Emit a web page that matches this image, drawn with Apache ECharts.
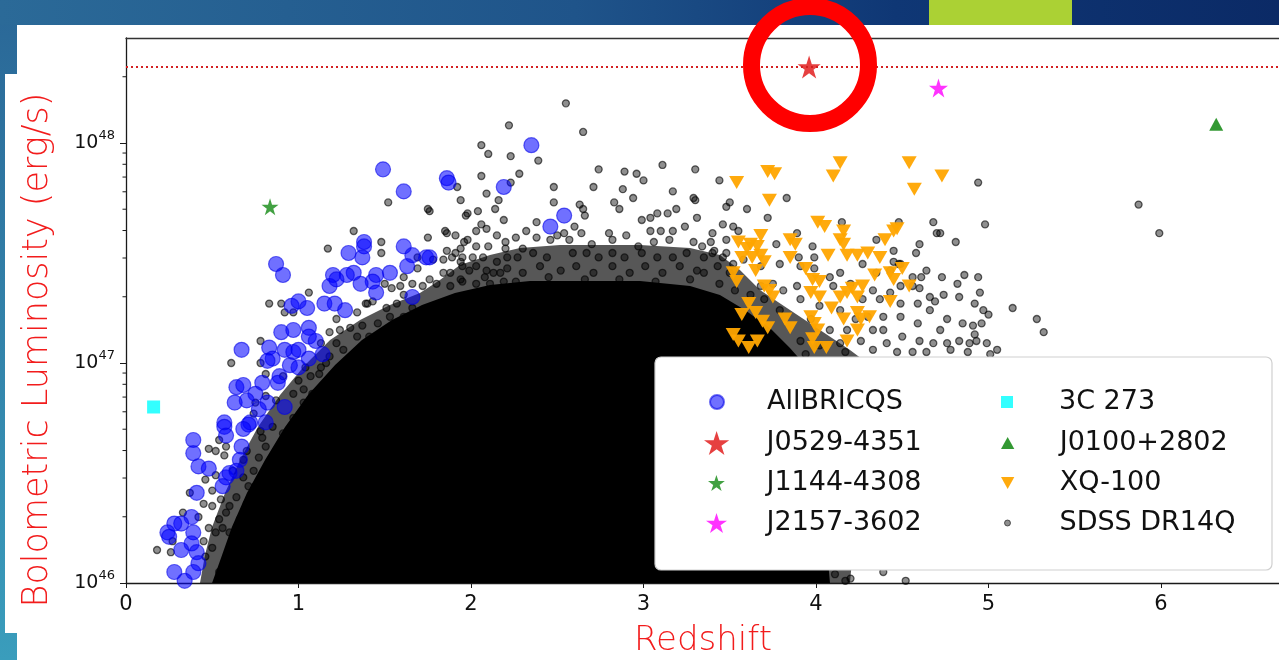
<!DOCTYPE html>
<html>
<head>
<meta charset="utf-8">
<script src="https://cdn.jsdelivr.net/npm/echarts@6/dist/echarts.min.js"></script>
<style>
  html, body { margin: 0; padding: 0; background: #ffffff; }
  #chart { width: 1279px; height: 660px; }
</style>
</head>
<body>
<div id="chart"></div>
<script>
// Quasar bolometric luminosity against redshift.
// Points are stored as [redshift, log10(L_bol / erg s^-1)].

const xTicks = [0, 1, 2, 3, 4, 5, 6];
const yMajorTicks = [1e46, 1e47, 1e48];
const yMinorTicks = [2e46, 3e46, 4e46, 5e46, 6e46, 7e46, 8e46, 9e46,
                     2e47, 3e47, 4e47, 5e47, 6e47, 7e47, 8e47, 9e47, 2e48];

const j0529 = [[3.96, 48.345]];
const j1144 = [[0.835, 47.71]];
const j2157 = [[4.71, 48.25]];
const c273 = [[0.16, 46.80]];
const j0100 = [[6.32, 48.085]];

const allbricqs = [
  [2.35,47.99],[1.49,47.88],[1.61,47.78],[1.86,47.84],[1.87,47.82],[2.19,47.80],[2.46,47.62],[2.54,47.67],
  [0.87,47.45],[0.91,47.40],[1.38,47.55],[1.38,47.53],[1.37,47.48],[1.29,47.50],[1.61,47.53],[1.66,47.49],
  [1.63,47.44],[1.74,47.48],[1.76,47.48],[1.53,47.41],[1.45,47.40],[1.43,47.37],[1.45,47.32],[1.36,47.36],
  [1.32,47.41],[1.28,47.40],[1.20,47.40],[1.18,47.35],[1.22,47.38],[1.66,47.30],
  [0.96,47.26],[1.00,47.28],[1.05,47.25],[1.15,47.27],[1.21,47.27],[1.27,47.24],[0.90,47.14],[0.97,47.15],
  [1.06,47.16],[1.06,47.12],[1.10,47.10],[1.14,47.04],[0.67,47.06],[0.83,47.07],[0.85,47.02],[0.92,47.06],
  [0.97,47.05],[1.00,47.06],[0.95,46.99],[1.00,46.98],[1.06,47.02],[0.89,46.94],[0.88,46.91],[0.82,47.01],
  [0.64,46.89],[0.68,46.90],[0.75,46.86],[0.79,46.91],[0.63,46.82],[0.70,46.83],[0.82,46.82],[0.92,46.80],
  [0.57,46.73],[0.72,46.73],[0.77,46.79],[0.81,46.73],[0.71,46.72],[0.68,46.70],[0.57,46.71],[0.58,46.67],
  [0.39,46.65],[0.39,46.59],[0.67,46.62],[0.66,46.56],[0.42,46.53],[0.48,46.52],[0.58,46.48],[0.60,46.50],
  [0.64,46.51],[0.56,46.44],[0.41,46.41],[0.38,46.30],[0.32,46.27],[0.28,46.27],[0.24,46.23],[0.25,46.21],
  [0.39,46.23],[0.38,46.18],[0.32,46.15],[0.41,46.14],[0.42,46.09],[0.28,46.05],[0.34,46.01],[0.39,46.05]
];

const xq100 = [
  [3.54,47.82],[3.72,47.87],[3.76,47.86],[3.73,47.74],[4.14,47.91],[4.10,47.85],[4.54,47.91],[4.57,47.79],
  [4.73,47.85],[4.01,47.64],[4.05,47.62],[4.16,47.60],[4.47,47.61],[4.45,47.60],[4.40,47.56],[3.68,47.58],
  [3.55,47.55],[3.62,47.54],[3.66,47.53],[3.60,47.52],[3.63,47.48],[3.68,47.49],[3.57,47.48],[3.70,47.46],
  [3.85,47.56],[3.88,47.54],[3.85,47.48],[4.14,47.56],[4.16,47.54],[4.07,47.49],[4.18,47.49],[4.24,47.49],
  [4.30,47.50],[4.37,47.48],[3.94,47.43],[3.52,47.41],[3.54,47.37],[3.65,47.42],[3.98,47.38],[4.02,47.37],
  [4.34,47.40],[4.43,47.41],[4.45,47.38],[4.50,47.43],[4.54,47.35],[3.70,47.35],[3.73,47.33],[3.75,47.30],
  [3.97,47.32],[4.02,47.30],[4.14,47.30],[4.18,47.32],[4.21,47.34],[4.27,47.35],[4.24,47.30],[4.43,47.28],
  [3.61,47.27],[3.65,47.23],[3.57,47.22],[3.69,47.19],[3.72,47.16],[3.82,47.20],[3.85,47.16],[3.97,47.21],
  [3.99,47.18],[4.09,47.25],[4.16,47.20],[4.24,47.23],[4.31,47.21],[4.26,47.20],[3.52,47.13],[3.55,47.10],
  [3.61,47.07],[3.66,47.10],[4.01,47.15],[3.98,47.11],[3.99,47.07],[4.06,47.07],[4.18,47.10],[4.24,47.15]
];

// Individually visible SDSS DR14Q quasars around the crowded region
const sdssPoints = [
  [2.55,48.18],[2.22,48.08],[2.65,48.05],[2.06,47.99],[2.10,47.95],[2.23,47.94],[2.39,47.92],[2.74,47.88],
  [2.89,47.87],[2.96,47.86],[3.00,47.83],[3.11,47.90],[3.30,47.88],[3.44,47.83],[2.06,47.85],[2.28,47.86],
  [1.92,47.80],[2.48,47.80],[2.71,47.80],[2.88,47.79],[3.17,47.78],[2.09,47.77],[1.94,47.74],[2.14,47.70],
  [2.04,47.69],[1.97,47.67],[2.19,47.65],[2.48,47.73],[2.63,47.72],[2.65,47.70],[2.83,47.73],[2.86,47.70],
  [2.94,47.75],[3.19,47.70],[3.29,47.75],[3.30,47.74],[3.48,47.71],[3.50,47.73],[2.66,47.67],[2.99,47.65],
  [3.04,47.66],[3.08,47.68],[3.14,47.68],[3.31,47.66],[2.38,47.64],[2.32,47.60],[2.06,47.63],[2.09,47.61],
  [1.86,47.59],[1.91,47.58],[2.54,47.59],[2.50,47.58],[2.26,47.57],[2.38,47.57],[2.60,47.62],[2.64,47.59],
  [2.80,47.59],[2.90,47.58],[3.04,47.60],[3.10,47.60],[3.17,47.60],[3.24,47.62],[3.29,47.55],[3.40,47.59],
  [3.46,47.63],[3.52,47.62],
  [1.96,47.55],[2.03,47.53],[2.10,47.53],[2.20,47.55],[2.30,47.52],[2.46,47.56],[2.57,47.56],[2.70,47.54],
  [2.82,47.56],[2.97,47.53],[3.06,47.55],[3.15,47.56],[1.86,47.51],[1.91,47.50],[1.84,47.47],[1.94,47.46],
  [2.03,47.44],[2.15,47.46],[2.27,47.48],[2.36,47.50],[2.44,47.48],[2.59,47.50],[2.67,47.50],[2.74,47.48],
  [2.82,47.50],[2.89,47.48],[2.99,47.50],[3.08,47.48],[3.17,47.48],[3.25,47.50],[3.34,47.53],[3.40,47.50],
  [3.48,47.50],
  [1.88,47.41],[1.99,47.42],[2.13,47.41],[2.21,47.43],[2.30,47.41],[2.40,47.44],[2.52,47.42],[2.61,47.44],
  [2.71,47.41],[2.82,47.44],[2.92,47.41],[3.01,47.44],[3.11,47.41],[3.21,47.44],[3.31,47.42],[3.43,47.44],
  [3.50,47.41],
  [1.94,47.38],[2.08,47.39],[2.26,47.37],[2.45,47.39],[2.66,47.38],[2.86,47.38],[3.07,47.37],[3.27,47.38],
  [3.44,47.36],
  [1.52,47.73],[1.75,47.70],[1.76,47.69],[1.98,47.68],[1.32,47.60],[1.85,47.60],[2.03,47.60],[1.48,47.55],
  [1.48,47.50],[1.17,47.52],[1.75,47.57],[1.98,47.56],[2.15,47.58],[1.89,47.48],[1.78,47.47],[1.95,47.48],
  [2.01,47.48],[2.07,47.48],[2.21,47.48],[1.69,47.43],[1.84,47.41],[1.95,47.44],[2.09,47.42],[2.17,47.41],
  [1.61,47.39],[1.76,47.38],[1.50,47.36],[1.59,47.35],[1.66,47.36],[1.72,47.35],[1.80,47.36],[1.88,47.35],
  [1.95,47.37],[2.03,47.36],[2.11,47.36],[2.19,47.37],[1.06,47.32],[0.83,47.27],[0.90,47.27],[0.97,47.23],
  [1.39,47.27],[1.43,47.28],[1.34,47.23],[1.51,47.25],[1.57,47.27],[1.66,47.25],[1.53,47.21],[1.61,47.21],
  [1.22,47.20],[1.18,47.14],[1.24,47.15],[1.30,47.16],[1.37,47.17],[1.46,47.18],[1.34,47.12],[1.41,47.12],
  [1.13,47.09],[1.22,47.09],[0.78,47.10],[1.18,47.03],[1.13,46.98],[1.26,47.06],[1.30,47.00],[1.07,46.94],
  [1.17,46.91],[1.03,46.88],[0.61,47.00],[0.92,47.23],[1.40,47.27],[1.61,47.31],[1.54,47.34],[1.69,47.48],
  [1.94,47.52],[2.20,47.52],[2.16,47.74],[2.23,47.82],
  [0.78,47.00],[0.54,46.65],[0.58,46.62],[0.48,46.61],[0.52,46.60],[0.57,46.58],[0.46,46.47],[0.52,46.49],
  [0.37,46.41],[0.50,46.42],[0.45,46.36],[0.50,46.35],[0.55,46.38],[0.33,46.32],[0.42,46.30],[0.48,46.25],
  [0.54,46.29],[0.58,46.32],[0.27,46.19],[0.18,46.15],[0.26,46.14],[0.45,46.19],[0.50,46.16],[0.46,46.12],
  [0.74,46.77],[0.78,46.69],[0.79,46.66],[0.70,46.60],[0.62,46.51],[0.68,46.56],[0.71,46.44],[0.64,46.39],
  [0.60,46.35],[0.56,46.25],[0.60,46.23],[0.52,46.23],[0.87,46.83],[0.81,46.85],[0.75,46.82],[0.91,46.94],
  [0.81,46.95],[1.00,46.92],[0.97,46.86],[1.03,46.82],[0.85,46.71],[0.81,46.62],[0.77,46.57],[0.74,46.51],
  [0.68,46.48],[1.04,46.98],[1.12,46.95],[1.16,47.00],[1.08,46.86],[0.97,46.75],[0.91,46.68],[0.87,46.60],
  [0.81,46.51],[0.75,46.44],[0.70,46.36],[0.66,46.29],[0.62,46.15],[0.58,46.09],[0.54,46.05],
  [3.83,47.75],[3.60,47.70],[3.72,47.66],[4.94,47.82],[4.98,47.63],[4.68,47.64],[4.70,47.59],[4.72,47.59],
  [4.81,47.55],[4.15,47.64],[4.48,47.64],[3.55,47.60],[3.89,47.59],[3.77,47.54],[3.98,47.53],[4.35,47.56],
  [4.60,47.54],[4.58,47.50],[4.45,47.51],[4.45,47.46],[4.48,47.45],[3.48,47.56],[3.39,47.55],[3.41,47.51],
  [3.46,47.48],[3.35,47.48],[3.58,47.47],[3.79,47.45],[3.90,47.48],[3.99,47.48],[3.91,47.44],[3.99,47.43],
  [4.14,47.41],[4.27,47.45],[4.35,47.41],[4.43,47.42],[4.49,47.45],[4.64,47.42],[4.56,47.39],[4.61,47.39],
  [4.73,47.39],[4.86,47.40],[4.94,47.39],[4.82,47.36],[4.60,47.34],[4.66,47.30],[4.69,47.28],[4.74,47.31],
  [4.83,47.30],[4.92,47.27],[4.97,47.24],[5.00,47.22],[3.35,47.41],[3.52,47.45],[3.68,47.44],[3.75,47.36],
  [3.81,47.33],[3.89,47.35],[4.08,47.39],[4.10,47.35],[4.20,47.36],[4.33,47.33],[4.43,47.32],[4.49,47.35],
  [4.56,47.35],[4.27,47.29],[4.37,47.29],[4.49,47.27],[4.59,47.27],[4.66,47.24],[4.76,47.20],[4.72,47.15],
  [4.85,47.18],[4.91,47.17],[4.96,47.18],[4.68,47.09],[4.76,47.09],[4.83,47.10],[4.89,47.09],[4.93,47.10],
  [4.99,47.09],[5.05,47.06],[4.39,47.21],[4.49,47.21],[4.59,47.18],[4.39,47.15],[4.50,47.12],[4.60,47.10],
  [4.41,47.09],[4.47,47.05],[4.56,47.05],[4.64,47.05],[4.78,47.06],[4.88,47.05],[4.30,47.21],[4.33,47.15],
  [4.26,47.10],[4.33,47.06],[4.18,47.15],[4.14,47.09],
  [3.62,47.31],[3.70,47.29],[3.91,47.29],[4.02,47.26],[4.14,47.24],[3.97,47.20],[4.08,47.15],[3.91,47.10],
  [4.02,47.08],[4.17,47.05],[3.94,47.04],[4.23,47.20],[3.79,47.24],[3.53,47.33],[3.68,47.35],
  [5.87,47.72],[5.99,47.59],[4.95,47.32],[5.14,47.25],[5.28,47.20],[5.32,47.14],[4.92,47.13],[5.01,47.04],
  [4.20,46.02],[4.39,46.05],[4.52,46.01],[4.11,46.04],[4.17,46.01]
];

// Outline of the region where SDSS DR14Q points overlap into solid black
const sdssCore = [
  [0.499,46.000],[0.557,46.127],[0.614,46.255],[0.701,46.409],[0.806,46.559],[0.922,46.709],
  [1.055,46.855],[1.212,46.991],[1.368,47.105],[1.542,47.195],[1.716,47.264],[1.907,47.318],
  [2.110,47.355],[2.342,47.373],[2.980,47.373],[3.270,47.350],[3.443,47.309],[3.588,47.241],
  [3.733,47.159],[3.849,47.068],[3.936,46.991],[4.023,46.514],[4.081,46.000]
];

// Outline of the crowded but not fully saturated band around it
const sdssCrowd = [
  [0.429,46.000],[0.458,46.127],[0.499,46.255],[0.574,46.409],[0.661,46.559],[0.765,46.709],
  [0.893,46.855],[1.038,46.991],[1.183,47.105],[1.357,47.195],[1.530,47.264],[1.704,47.318],
  [1.820,47.377],[1.936,47.445],[2.110,47.491],[2.284,47.523],[2.516,47.536],[2.980,47.536],
  [3.270,47.523],[3.443,47.491],[3.559,47.423],[3.675,47.332],[3.849,47.241],[4.023,47.150],
  [4.197,47.059],[4.313,46.991],[4.255,46.514],[4.197,46.000]
];

const toXY = pts => pts.map(p => [p[0], Math.pow(10, p[1])]);

const STAR = 'path://M0,-10L2.245,-3.09L9.511,-3.09L3.633,1.18L5.878,8.09L0,3.82L-5.878,8.09L-3.633,1.18L-9.511,-3.09L-2.245,-3.09Z';
const SQUARE = 'path://M0,0L10,0L10,10L0,10Z';
const TRI_UP = 'path://M5,0L10,9L0,9Z';
const TRI_DOWN = 'path://M0,0L10,0L5,9Z';

const TITLE_RED = '#f21c1c';
const TICK_FONT = 'DejaVu Sans';
const AXIS_COLOR = '#1a1a1a';

const chart = echarts.init(document.getElementById('chart'), null, { renderer: 'canvas' });

// legend: two columns of four rows inside one frame
const legendRows = [402, 443, 483, 523];
const legendCols = [{ center: 716, text: 766 }, { center: 1007, text: 1059 }];
function legendEntry(name, icon, size, col, row, itemStyle) {
  const c = legendCols[col];
  const item = { name: name, icon: icon };
  if (itemStyle) item.itemStyle = itemStyle;
  return {
    data: [item],
    left: c.center - size / 2,
    top: legendRows[row] - 16,
    itemWidth: 2 * (c.text - 5 - c.center),
    itemHeight: size,
    symbolKeepAspect: true,
    padding: 0,
    z: 10,
    textStyle: { fontFamily: TICK_FONT, fontSize: 27, color: '#111', lineHeight: 32 }
  };
}

function polygonSeries(name, outline, fill, z) {
  return {
    name: name, type: 'custom', z: z, silent: true,
    data: [[0, 1e46]],
    renderItem: (params, api) => ({
      type: 'polygon',
      shape: { points: outline.map(p => api.coord([p[0], Math.pow(10, p[1])])) },
      style: { fill: fill }
    })
  };
}

const option = {
  animation: false,
  backgroundColor: 'transparent',
  grid: { left: 126, right: 0, top: 38, bottom: 77, containLabel: false },
  graphic: [
    // slide background
    { type: 'rect', z: -20, shape: { x: 0, y: 0, width: 1279, height: 660 },
      style: { fill: new echarts.graphic.LinearGradient(0, 0, 0, 1, [
        { offset: 0, color: '#2a6797' }, { offset: 1, color: '#3a9dbc' }]) } },
    { type: 'rect', z: -19, shape: { x: 0, y: 0, width: 1279, height: 25 },
      style: { fill: new echarts.graphic.LinearGradient(0, 0, 1, 0, [
        { offset: 0, color: '#2b6a98' }, { offset: 0.45, color: '#1f548a' },
        { offset: 0.7, color: '#0f3775' }, { offset: 1, color: '#0b2a66' }]) } },
    { type: 'rect', z: -18, shape: { x: 929, y: 0, width: 143, height: 25 }, style: { fill: '#abd134' } },
    { type: 'rect', z: -18, shape: { x: 17, y: 25, width: 1262, height: 635 }, style: { fill: '#ffffff' } },
    { type: 'rect', z: -18, shape: { x: 5, y: 74, width: 40, height: 559 }, style: { fill: '#ffffff' } },
    // legend frame
    { type: 'rect', z: 5, shape: { x: 655, y: 357, width: 617, height: 213, r: 6 },
      style: { fill: '#ffffff', stroke: '#d0d0d0', lineWidth: 1.2 } },
    // axis titles
    { type: 'text', z: 100, x: 38, y: 350, rotation: Math.PI / 2,
      style: { text: 'Bolometric Luminosity (erg/s)', fill: TITLE_RED, font: '300 35px "DejaVu Sans"',
               align: 'center', verticalAlign: 'middle' } },
    { type: 'text', z: 100, x: 703, y: 641,
      style: { text: 'Redshift', fill: TITLE_RED, font: '300 34px "DejaVu Sans"',
               align: 'center', verticalAlign: 'middle' } },
    // highlight ring around J0529-4351
    { type: 'circle', z: 100, shape: { cx: 810, cy: 65, r: 58.5 },
      style: { fill: 'none', stroke: '#ff0000', lineWidth: 17 } }
  ],
  legend: [
    legendEntry('AllBRICQS', 'circle', 14, 0, 0),
    legendEntry('J0529-4351', STAR, 24, 0, 1),
    legendEntry('J1144-4308', STAR, 16, 0, 2),
    legendEntry('J2157-3602', STAR, 20, 0, 3),
    legendEntry('3C 273', SQUARE, 12, 1, 0),
    legendEntry('J0100+2802', TRI_UP, 12, 1, 1),
    legendEntry('XQ-100', TRI_DOWN, 12, 1, 2),
    legendEntry('SDSS DR14Q', 'circle', 6, 1, 3, { color: 'rgba(0,0,0,0.55)', borderColor: 'rgba(0,0,0,0.7)', borderWidth: 1 })
  ],
  xAxis: [{
    type: 'value', min: 0, max: 6.684, interval: 1,
    axisLine: { show: true, lineStyle: { color: AXIS_COLOR, width: 1.3 } },
    axisTick: { show: true, inside: false, length: 5, customValues: xTicks, lineStyle: { color: AXIS_COLOR } },
    axisLabel: { customValues: xTicks, margin: 11, fontFamily: TICK_FONT, fontSize: 21, color: '#111' },
    splitLine: { show: false }
  }, {
    type: 'value', position: 'top', min: 0, max: 6.684,
    axisLine: { show: true, lineStyle: { color: '#333', width: 1.3 } },
    axisTick: { show: false }, axisLabel: { show: false }, splitLine: { show: false }
  }],
  yAxis: [{
    type: 'log', logBase: 10, min: 1e46, max: 3e48,
    axisLine: { show: true, lineStyle: { color: AXIS_COLOR, width: 1.3 } },
    axisTick: { show: true, length: 6, customValues: yMajorTicks, lineStyle: { color: AXIS_COLOR } },
    minorTick: { show: false },
    axisLabel: {
      customValues: yMajorTicks, margin: 11,
      formatter: v => '{b|10}{s|' + Math.round(Math.log10(v)) + '}',
      rich: {
        b: { fontFamily: TICK_FONT, fontSize: 19, color: '#111' },
        s: { fontFamily: TICK_FONT, fontSize: 13, color: '#111', padding: [0, 0, 14, 0] }
      }
    },
    splitLine: { show: false }
  }],
  series: [
    {
      name: 'SDSS DR14Q', type: 'scatter', z: 2, symbol: 'circle', symbolSize: 7,
      itemStyle: { color: 'rgba(0,0,0,0.55)', borderColor: 'rgba(0,0,0,0.75)', borderWidth: 1.3 },
      data: toXY(sdssPoints)
    },
    polygonSeries('SDSS DR14Q', sdssCrowd, 'rgba(0,0,0,0.66)', 1),
    polygonSeries('SDSS DR14Q', sdssCore, '#000000', 1),
    {
      // minor ticks of the logarithmic luminosity axis
      name: 'minor ticks', type: 'custom', z: 2, silent: true,
      data: yMinorTicks.map(v => [0, v]),
      renderItem: (params, api) => {
        const p = api.coord([api.value(0), api.value(1)]);
        return { type: 'line', shape: { x1: p[0] - 3.5, y1: p[1], x2: p[0], y2: p[1] },
                 style: { stroke: AXIS_COLOR, lineWidth: 1 } };
      }
    },
    {
      name: 'AllBRICQS', type: 'scatter', z: 3, symbol: 'circle', symbolSize: 15,
      itemStyle: { color: 'rgba(0,0,255,0.7)', borderColor: 'rgba(0,0,230,0.72)', borderWidth: 1.2 },
      data: toXY(allbricqs)
    },
    {
      name: 'XQ-100', type: 'scatter', z: 3, symbol: TRI_DOWN, symbolSize: [15, 13],
      itemStyle: { color: '#ffa500', opacity: 0.95 },
      data: toXY(xq100)
    },
    {
      name: '3C 273', type: 'scatter', z: 4, symbol: SQUARE, symbolSize: 13,
      itemStyle: { color: '#00ffff' }, data: toXY(c273)
    },
    {
      name: 'J0100+2802', type: 'scatter', z: 4, symbol: TRI_UP, symbolSize: [14, 13],
      itemStyle: { color: '#007f00' }, data: toXY(j0100)
    },
    {
      name: 'J1144-4308', type: 'scatter', z: 4, symbol: STAR, symbolSize: 17,
      itemStyle: { color: '#138a13' }, data: toXY(j1144)
    },
    {
      name: 'J2157-3602', type: 'scatter', z: 4, symbol: STAR, symbolSize: 19,
      itemStyle: { color: '#ff00ff' }, data: toXY(j2157)
    },
    {
      name: 'J0529-4351', type: 'scatter', z: 4, symbol: STAR, symbolSize: 23,
      itemStyle: { color: '#e01010' }, data: toXY(j0529),
      markLine: {
        silent: true, symbol: ['none', 'none'], label: { show: false },
        lineStyle: { color: '#d42020', width: 2, type: [2, 3] },
        data: [{ yAxis: Math.pow(10, j0529[0][1]) }]
      }
    }
  ]
};

chart.setOption(option);
</script>
</body>
</html>
